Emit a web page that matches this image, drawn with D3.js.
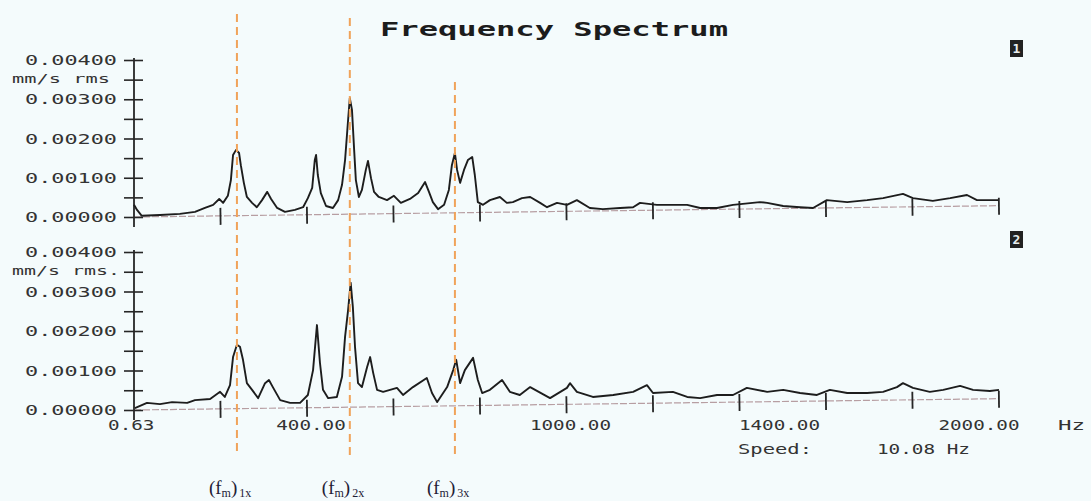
<!DOCTYPE html>
<html>
<head>
<meta charset="utf-8">
<script src="https://cdn.jsdelivr.net/npm/d3@7"></script>
<style>
  html, body { margin: 0; padding: 0; background: #f4fbfc; }
  svg { display: block; }
</style>
</head>
<body>
<svg id="chart" width="1091" height="501"></svg>
<script>
// Spectrum 1 (upper trace): frequency in Hz, amplitude in mm/s rms
const freqTop = [0, 7, 18, 60, 106, 141, 164, 183, 197, 206, 217, 224, 229, 236, 243, 247, 254, 261, 273, 284, 296, 308, 317, 331, 349, 372, 391, 402, 412, 418, 421, 425, 432, 444, 460, 472, 481, 488, 495, 499, 504, 509, 513, 520, 527, 536, 541, 548, 555, 566, 585, 601, 617, 638, 657, 673, 682, 691, 703, 717, 728, 735, 742, 747, 754, 763, 772, 782, 788, 795, 807, 823, 846, 862, 876, 897, 916, 939, 955, 978, 1001, 1024, 1054, 1084, 1124, 1154, 1170, 1209, 1246, 1279, 1309, 1348, 1385, 1447, 1464, 1501, 1540, 1570, 1602, 1649, 1695, 1732, 1778, 1801, 1847, 1887, 1926, 1949, 1998];
const ampTop = [0.00031, 0.00018, 0.00003, 0.00005, 0.00008, 0.00013, 0.00023, 0.00031, 0.00046, 0.00036, 0.00054, 0.00094, 0.00158, 0.00171, 0.00163, 0.00132, 0.00087, 0.00051, 0.00036, 0.00025, 0.00043, 0.00064, 0.00046, 0.00023, 0.00013, 0.00018, 0.00025, 0.00048, 0.00074, 0.00145, 0.00158, 0.00107, 0.00061, 0.00028, 0.00023, 0.00043, 0.00082, 0.00145, 0.00247, 0.00303, 0.00273, 0.00171, 0.00094, 0.00051, 0.00069, 0.0012, 0.00143, 0.00099, 0.00064, 0.00051, 0.00043, 0.00054, 0.00036, 0.00046, 0.00061, 0.00089, 0.00064, 0.00038, 0.0002, 0.00031, 0.00069, 0.00132, 0.00163, 0.0012, 0.00087, 0.0012, 0.00145, 0.00153, 0.00107, 0.00038, 0.00031, 0.00043, 0.00051, 0.00036, 0.00038, 0.00048, 0.00051, 0.00036, 0.00025, 0.00036, 0.00031, 0.00043, 0.00023, 0.0002, 0.00023, 0.00025, 0.00036, 0.00031, 0.00031, 0.00031, 0.00023, 0.00023, 0.00031, 0.00038, 0.00036, 0.00028, 0.00025, 0.00023, 0.00043, 0.00038, 0.00043, 0.00048, 0.00059, 0.00048, 0.00041, 0.00048, 0.00056, 0.00043, 0.00043];

// Spectrum 2 (lower trace)
const freqBottom = [2, 30, 60, 88, 123, 141, 176, 199, 210, 222, 229, 238, 245, 252, 261, 273, 287, 303, 312, 321, 338, 361, 384, 402, 414, 423, 430, 437, 449, 469, 481, 488, 495, 501, 506, 511, 518, 527, 539, 546, 553, 562, 576, 608, 622, 645, 677, 689, 701, 724, 738, 745, 754, 765, 784, 795, 805, 823, 851, 869, 892, 916, 962, 1001, 1008, 1024, 1061, 1108, 1154, 1186, 1200, 1246, 1279, 1309, 1348, 1385, 1417, 1464, 1501, 1540, 1579, 1609, 1649, 1695, 1732, 1764, 1778, 1801, 1840, 1871, 1910, 1940, 1979, 2000];
const ampBottom = [0.00005, 0.00018, 0.00015, 0.0002, 0.00018, 0.00025, 0.00028, 0.00046, 0.00033, 0.00063, 0.00134, 0.00165, 0.0016, 0.00127, 0.00068, 0.00051, 0.0003, 0.00068, 0.00076, 0.00058, 0.00025, 0.00018, 0.00018, 0.00038, 0.00101, 0.00215, 0.00119, 0.00051, 0.0003, 0.00033, 0.00084, 0.00185, 0.00253, 0.00322, 0.00261, 0.0016, 0.00068, 0.00058, 0.00109, 0.00134, 0.00094, 0.00051, 0.00046, 0.00056, 0.00038, 0.00058, 0.00081, 0.00043, 0.0002, 0.00058, 0.00101, 0.00127, 0.00068, 0.00101, 0.00132, 0.00076, 0.00043, 0.00051, 0.00076, 0.00046, 0.00038, 0.00058, 0.0003, 0.00056, 0.00068, 0.00046, 0.00033, 0.00038, 0.00046, 0.00063, 0.00043, 0.00046, 0.00033, 0.0003, 0.00038, 0.00038, 0.00056, 0.00046, 0.00051, 0.00043, 0.00038, 0.00051, 0.00043, 0.00043, 0.00046, 0.00058, 0.00068, 0.00056, 0.00046, 0.00051, 0.00061, 0.00051, 0.00048, 0.00051];

// Axis ticks and labels
const xTickValues = [200, 400, 600, 800, 1000, 1200, 1400, 1600, 1800, 2000];
const xLabelValues = [0.63, 400, 1000, 1400, 2000];
const xLabelTexts = ["0.63", "400.00", "1000.00", "1400.00", "2000.00"];
const yTickValues = [0, 0.0005, 0.001, 0.0015, 0.002, 0.0025, 0.003, 0.0035, 0.004];
const yLabelValues = [0.004, 0.003, 0.002, 0.001, 0];
const yLabelTexts = ["0.00400", "0.00300", "0.00200", "0.00100", "0.00000"];

// Running-speed harmonics
const harmonicFreqs = [238, 499, 742];
const harmonicOrders = ["1x", "2x", "3x"];

const svg = d3.select("#chart");
const mono = "'DejaVu Sans Mono', 'Liberation Mono', monospace";
const ink = "#262626";

const x = d3.scaleLinear().domain([0, 2000]).range([134, 999]);

const panels = [
  { freq: freqTop, amp: ampTop, y: d3.scaleLinear().domain([0, 0.004]).range([217, 60]), unit: "mm/s rms", id: "1", boxY: 40 },
  { freq: freqBottom, amp: ampBottom, y: d3.scaleLinear().domain([0, 0.004]).range([410, 252]), unit: "mm/s rms.", id: "2", boxY: 231 }
];

// Title
svg.append("text")
  .attr("x", 380).attr("y", 36)
  .attr("textLength", 348).attr("lengthAdjust", "spacingAndGlyphs")
  .style("font-family", mono).style("font-weight", "bold").style("font-size", "19px")
  .attr("fill", "#1c1c1c")
  .text("Frequency Spectrum");

panels.forEach(p => {
  const g = svg.append("g");
  const y = p.y;
  const y0 = y(0);

  // x-axis baseline, slightly tilted as on the plotter output
  const xg = g.append("g").attr("transform", `rotate(-0.75, ${x(0)}, ${y0})`);
  xg.append("line")
    .attr("x1", x(0)).attr("x2", x(2000)).attr("y1", y0).attr("y2", y0)
    .attr("stroke", "#b79ea2").attr("stroke-width", 1.2).attr("stroke-dasharray", "7 2");
  xg.selectAll("line.xt").data(xTickValues).join("line").attr("class", "xt")
    .attr("x1", d => x(d)).attr("x2", d => x(d))
    .attr("y1", y0 - 8).attr("y2", y0 + 9)
    .attr("stroke", ink).attr("stroke-width", 1.8);

  // y-axis with ticks crossing the spine
  const yAxis = d3.axisLeft(y).tickValues(yTickValues).tickSize(0).tickFormat("");
  const ya = g.append("g").attr("transform", `translate(${x(0)},0)`).call(yAxis);
  ya.select(".domain").remove();
  ya.append("line").attr("x1", 0).attr("x2", 0).attr("y1", y(0.004) - 2).attr("y2", y0 + 10)
    .attr("stroke", ink).attr("stroke-width", 1.8);
  ya.selectAll(".tick line").attr("x1", -10).attr("x2", 9).attr("stroke", ink).attr("stroke-width", 1.6);

  g.selectAll("text.yl").data(yLabelValues).join("text").attr("class", "yl")
    .attr("x", 117).attr("y", d => y(d) + 5)
    .attr("text-anchor", "end")
    .attr("textLength", 92).attr("lengthAdjust", "spacingAndGlyphs")
    .style("font-family", mono).style("font-size", "14px").attr("fill", "#333")
    .text((d, i) => yLabelTexts[i]);
  g.append("text")
    .attr("x", 12).attr("y", y(0.0035) + 3)
    .attr("textLength", p.unit.length > 8 ? 108 : 98).attr("lengthAdjust", "spacingAndGlyphs")
    .style("font-family", mono).style("font-size", "13px").attr("fill", "#333")
    .text(p.unit);

  // spectrum trace
  const line = d3.line().x(d => x(d[0])).y(d => y(d[1]));
  g.append("path")
    .datum(d3.zip(p.freq, p.amp))
    .attr("d", line)
    .attr("fill", "none").attr("stroke", "#1d1d1d").attr("stroke-width", 1.9)
    .attr("stroke-linejoin", "round");

  // panel number badge
  g.append("rect").attr("x", 1010).attr("y", p.boxY).attr("width", 13).attr("height", 17)
    .attr("fill", "#222");
  g.append("text").attr("x", 1016.5).attr("y", p.boxY + 13).attr("text-anchor", "middle")
    .style("font-family", mono).style("font-weight", "bold").style("font-size", "13px")
    .attr("fill", "#e8eeee").text(p.id);
});

// Frequency labels along the lower axis
const xLabelShift = [-3, 4, 4, 40, -20];
svg.selectAll("text.xl").data(xLabelValues).join("text").attr("class", "xl")
  .attr("x", (d, i) => x(d) + xLabelShift[i]).attr("y", 430)
  .attr("text-anchor", "middle")
  .attr("textLength", (d, i) => xLabelTexts[i].length * 11.6).attr("lengthAdjust", "spacingAndGlyphs")
  .style("font-family", mono).style("font-size", "14px").attr("fill", "#333")
  .text((d, i) => xLabelTexts[i]);
svg.append("text").attr("x", 1058).attr("y", 430)
  .attr("textLength", 27).attr("lengthAdjust", "spacingAndGlyphs")
  .style("font-family", mono).style("font-size", "14px").attr("fill", "#333").text("Hz");
svg.append("text").attr("x", 738).attr("y", 454)
  .attr("textLength", 74).attr("lengthAdjust", "spacingAndGlyphs")
  .style("font-family", mono).style("font-size", "14px").attr("fill", "#333").text("Speed:");
svg.append("text").attr("x", 877).attr("y", 454)
  .attr("textLength", 93).attr("lengthAdjust", "spacingAndGlyphs")
  .style("font-family", mono).style("font-size", "14px").attr("fill", "#333").text("10.08 Hz");

// Harmonic markers
const markerTop = [14, 18, 82];
svg.selectAll("line.hm").data(harmonicFreqs).join("line").attr("class", "hm")
  .attr("x1", d => x(d)).attr("x2", d => x(d))
  .attr("y1", (d, i) => markerTop[i]).attr("y2", 455)
  .attr("stroke", "#f0a35a").attr("stroke-width", 2).attr("stroke-dasharray", "8 5");

const labels = svg.selectAll("text.hl").data(harmonicFreqs).join("text").attr("class", "hl")
  .attr("x", d => x(d) - 28).attr("y", 494)
  .style("font-family", "'Liberation Serif', 'Times New Roman', serif")
  .style("font-size", "19px").attr("fill", "#1e2035");
labels.append("tspan").text("(f");
labels.append("tspan").attr("dy", 3).style("font-size", "12px").text("m");
labels.append("tspan").attr("dy", -3).text(")");
labels.append("tspan").attr("dy", 3).attr("dx", 2).style("font-size", "12px").text((d, i) => harmonicOrders[i]);
</script>
</body>
</html>
